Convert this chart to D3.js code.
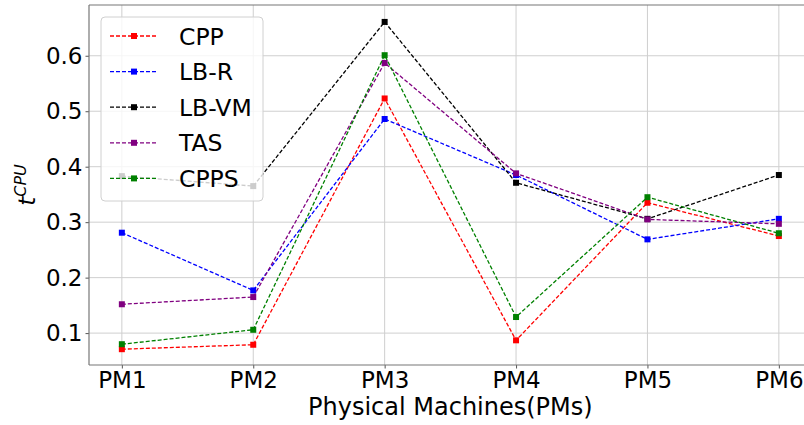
<!DOCTYPE html>
<html>
<head>
<meta charset="utf-8">
<script src="https://cdn.jsdelivr.net/npm/d3@7"></script>
<style>
  html, body { margin: 0; padding: 0; background: #fff; }
  svg { display: block; font-family: "DejaVu Sans", sans-serif; }
</style>
</head>
<body>
<svg id="chart" width="804" height="425"></svg>
<script>
const categories = ["PM1", "PM2", "PM3", "PM4", "PM5", "PM6"];
const seriesNames = ["CPP", "LB-R", "LB-VM", "TAS", "CPPS"];
const seriesColors = ["#ff0000", "#0000ff", "#000000", "#800080", "#008000"];
const cppValues  = [0.071, 0.079, 0.523, 0.087, 0.335, 0.275];
const lbrValues  = [0.281, 0.177, 0.486, 0.385, 0.269, 0.306];
const lbvmValues = [0.383, 0.365, 0.661, 0.371, 0.306, 0.385];
const tasValues  = [0.152, 0.165, 0.587, 0.388, 0.305, 0.297];
const cppsValues = [0.080, 0.106, 0.601, 0.129, 0.345, 0.280];
const yTicks = [0.1, 0.2, 0.3, 0.4, 0.5, 0.6];
const xLabel = "Physical Machines(PMs)";

(function () {
const allSeries = [cppValues, lbrValues, lbvmValues, tasValues, cppsValues];

const svg = d3.select("#chart");
const pLeft = 89, pTop = 5, pBottom = 365, step = 131.4;
const pRight = pLeft + step * 5.5;

const x = d3.scaleLinear().domain([-0.25, 5.25]).range([pLeft, pRight]);
const y = d3.scaleLinear().domain([0.0425, 0.6915]).range([pBottom, pTop]);

// grid
const grid = svg.append("g");
grid.selectAll("line.gy").data(yTicks).enter().append("line")
  .attr("x1", pLeft).attr("x2", 804)
  .attr("y1", d => y(d)).attr("y2", d => y(d))
  .attr("stroke", "#cfcfcf").attr("stroke-width", 1);
grid.selectAll("line.gx").data(categories).enter().append("line")
  .attr("x1", (d, i) => x(i)).attr("x2", (d, i) => x(i))
  .attr("y1", pTop).attr("y2", pBottom)
  .attr("stroke", "#cfcfcf").attr("stroke-width", 1);

// axes
const yAxis = d3.axisLeft(y).tickValues(yTicks).tickFormat(d3.format(".1f"))
  .tickSize(3.5).tickSizeOuter(0).tickPadding(3);
const gy = svg.append("g").attr("transform", `translate(${pLeft},0)`).call(yAxis);
gy.select(".domain").remove();
gy.selectAll("line").attr("stroke", "#555");
gy.selectAll("text").attr("font-size", 23).attr("fill", "#000")
  .attr("font-family", "DejaVu Sans");

const xAxis = d3.axisBottom(x).tickValues(d3.range(categories.length))
  .tickFormat(i => categories[i]).tickSize(3.5).tickSizeOuter(0).tickPadding(3);
const gx = svg.append("g").attr("transform", `translate(0,${pBottom})`).call(xAxis);
gx.select(".domain").remove();
gx.selectAll("line").attr("stroke", "#555");
gx.selectAll("text").attr("font-size", 23).attr("fill", "#000")
  .attr("font-family", "DejaVu Sans");

// frame
svg.append("line").attr("x1", pLeft).attr("x2", pLeft).attr("y1", pTop).attr("y2", pBottom)
  .attr("stroke", "#777").attr("stroke-width", 1.2);
svg.append("line").attr("x1", pLeft).attr("x2", 804).attr("y1", pBottom).attr("y2", pBottom)
  .attr("stroke", "#777").attr("stroke-width", 1.2);
svg.append("line").attr("x1", pLeft).attr("x2", 804).attr("y1", pTop).attr("y2", pTop)
  .attr("stroke", "#777").attr("stroke-width", 1.2);

// series
const line = d3.line().x((d, i) => x(i)).y(d => y(d));
allSeries.forEach((vals, si) => {
  const g = svg.append("g");
  g.append("path").datum(vals).attr("d", line)
    .attr("fill", "none").attr("stroke", seriesColors[si])
    .attr("stroke-width", 1.3).attr("stroke-dasharray", "4,2");
  g.selectAll("rect").data(vals).enter().append("rect")
    .attr("x", (d, i) => x(i) - 3).attr("y", d => y(d) - 3)
    .attr("width", 6).attr("height", 6).attr("fill", seriesColors[si]);
});

// axis labels
svg.append("text").attr("x", (pLeft + pRight) / 2).attr("y", 415)
  .attr("text-anchor", "middle").attr("font-size", 24).text(xLabel);

const yl = svg.append("text").attr("transform", "translate(35,185) rotate(-90)")
  .attr("text-anchor", "middle").attr("font-size", 23);
yl.append("tspan").attr("font-style", "italic").text("t");
yl.append("tspan").attr("font-style", "italic").attr("font-size", 16)
  .attr("dy", -9).text("CPU");

// legend
const lg = svg.append("g");
lg.append("rect").attr("x", 101).attr("y", 17).attr("width", 162).attr("height", 184)
  .attr("rx", 4).attr("fill", "#fff").attr("fill-opacity", 0.8)
  .attr("stroke", "#d0d0d0").attr("stroke-width", 1);
seriesNames.forEach((name, i) => {
  const cy = 36 + i * 35.6;
  lg.append("line").attr("x1", 110).attr("x2", 158).attr("y1", cy).attr("y2", cy)
    .attr("stroke", seriesColors[i]).attr("stroke-width", 1.3).attr("stroke-dasharray", "4,2");
  lg.append("rect").attr("x", 131).attr("y", cy - 3).attr("width", 6).attr("height", 6)
    .attr("fill", seriesColors[i]);
  lg.append("text").attr("x", 179).attr("y", cy + 8.5).attr("font-size", 23.5).text(name);
});
})();
</script>
</body>
</html>
